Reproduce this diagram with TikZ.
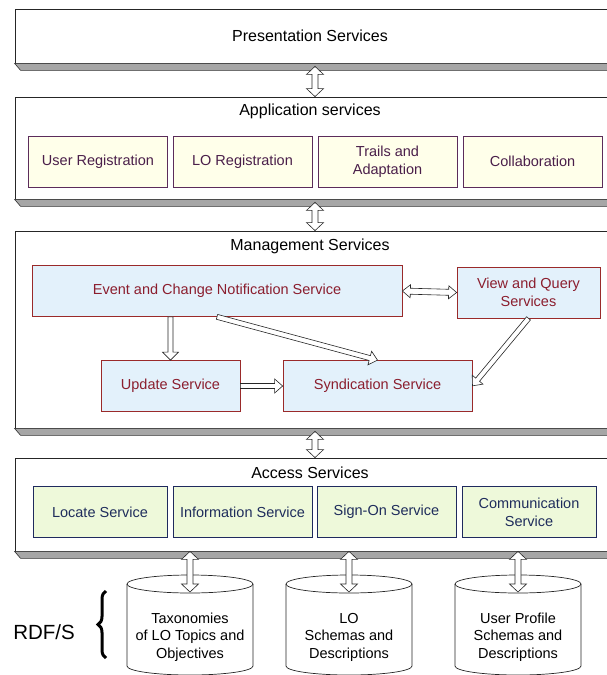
\documentclass[tikz,border=0pt]{standalone}
\usepackage{fontspec}
\setmainfont{Liberation Sans}
\usetikzlibrary{calc,decorations.pathreplacing}

\definecolor{appfill}{HTML}{FFFFEA}
\definecolor{appline}{HTML}{5B2C5B}
\definecolor{apptext}{HTML}{4A1F4A}
\definecolor{mgtfill}{HTML}{E3F1FB}
\definecolor{mgtline}{HTML}{9A2A2A}
\definecolor{mgttext}{HTML}{8B1E2E}
\definecolor{accfill}{HTML}{EEF9DA}
\definecolor{accline}{HTML}{1F2A5E}
\definecolor{acctext}{HTML}{1F2D5C}

\tikzset{
  layer/.style={draw=black!85, fill=white, line width=0.8pt, minimum width=600pt, inner sep=0pt},
  slab/.style={draw=black!80, fill=black!35, line width=0.6pt},
  title/.style={font=\fontsize{16}{19}\selectfont},
  inbox/.style={line width=0.7pt, minimum height=51pt, align=center, inner sep=0pt, font=\fontsize{14.5}{18}\selectfont},
  appbox/.style={inbox, draw=appline, fill=appfill, text=apptext, minimum width=139pt},
  mgtbox/.style={inbox, draw=mgtline, fill=mgtfill, text=mgttext},
  accbox/.style={inbox, draw=accline, fill=accfill, text=acctext},
  dbtext/.style={align=center, font=\fontsize{14.5}{17.5}\selectfont},
  dbline/.style={draw=black!85, line width=0.7pt},
  hollow/.style={draw=black!85, fill=white, line width=0.6pt, line join=miter}
}

% hollow block arrows between two points
\newcommand{\arrowsetup}[2]{%
  \path (#1) coordinate (arA) (#2) coordinate (arB);
  \pgfpointdiff{\pgfpointanchor{arA}{center}}{\pgfpointanchor{arB}{center}}%
  \pgfgetlastxy{\arDX}{\arDY}%
  \pgfmathsetmacro{\arAng}{atan2(\arDY,\arDX)}%
  \pgfmathsetmacro{\arLen}{veclen(\arDX,\arDY)}%
}
\newcommand{\onearrow}[3][8]{%
  \arrowsetup{#2}{#3}%
  \draw[hollow, shift={(arA)}, rotate=\arAng]
    (0pt,-2.5pt) -- (\arLen pt-8pt,-2.5pt) -- (\arLen pt-8pt,-#1pt) -- (\arLen pt,0pt)
    -- (\arLen pt-8pt,#1pt) -- (\arLen pt-8pt,2.5pt) -- (0pt,2.5pt) -- cycle;
}
\newcommand{\twoarrow}[3][8]{%
  \arrowsetup{#2}{#3}%
  \draw[hollow, shift={(arA)}, rotate=\arAng]
    (0pt,0pt) -- (8pt,#1pt) -- (8pt,3pt) -- (\arLen pt-8pt,3pt) -- (\arLen pt-8pt,#1pt)
    -- (\arLen pt,0pt) -- (\arLen pt-8pt,-#1pt) -- (\arLen pt-8pt,-3pt) -- (8pt,-3pt)
    -- (8pt,-#1pt) -- cycle;
}

\begin{document}
\begin{tikzpicture}[x=1pt,y=-1pt]
  \useasboundingbox (0,0) rectangle (607,675);
  \clip (0,0) rectangle (607,675);

  % the four layers
  \node[layer, minimum height=54pt] (pres) at (315,36) {};
  \node[layer, minimum height=102pt] (appl) at (315,148) {};
  \node[layer, minimum height=197pt] (mgmt) at (315,329.5) {};
  \node[layer, minimum height=93pt] (acc) at (315,504.5) {};
  \foreach \l in {pres,appl,mgmt,acc}
    \draw[slab] (\l.south west) -- ++(6,7) -- ++(600,0) -- (\l.south east) -- cycle;

  \node[title] (presT) at (310,36) {Presentation Services};
  \node[title] (applT) at (310,111) {Application services};
  \node[title] (mgmtT) at (310,246) {Management Services};
  \node[title] (accT) at (310,473) {Access Services};

  % application services
  \node[appbox] (user) at (98,161.5) {User Registration};
  \node[appbox] (lor) at (242.5,161.5) {LO Registration};
  \node[appbox] (trail) at (387.5,161.5) {Trails and\\Adaptation};
  \node[appbox] (collab) at (532.5,161.5) {Collaboration};

  % management services
  \node[mgtbox, minimum width=370pt] (event) at (217,291) {Event and Change Notification Service};
  \node[mgtbox, minimum width=143pt] (view) at (528.5,292.5) {View and Query\\Services};
  \node[mgtbox, minimum width=139pt] (update) at (170.5,386) {Update Service};
  \node[mgtbox, minimum width=189pt] (synd) at (377.5,386) {Syndication Service};

  % access services
  \node[accbox, minimum width=134pt] (locate) at (100,512) {Locate Service};
  \node[accbox, minimum width=139pt] (info) at (242.5,512) {Information Service};
  \node[accbox, minimum width=139pt] (signon) at (386.5,512) {Sign-On Service};
  \node[accbox, minimum width=134pt] (comm) at (529,512) {Communication\\Service};

  % repositories
  \node[dbtext] (tax) at (190,637) {Taxonomies\\of LO Topics and\\Objectives};
  \node[dbtext] (lodb) at (349,637) {LO\\Schemas and\\Descriptions};
  \node[dbtext] (userdb) at (518,637) {User Profile\\Schemas and\\Descriptions};
  \foreach \c in {tax,lodb,userdb} {
    \draw[dbline] ([shift={(-63,-53)}]\c.center) -- ([shift={(-63,29)}]\c.center)
      arc[start angle=180, end angle=360, x radius=63pt, y radius=9pt]
      -- ([shift={(63,-53)}]\c.center);
    \draw[dbline] ([shift={(0,-53)}]\c.center) ellipse [x radius=63pt, y radius=9pt];
  }

  \node[font=\fontsize{20.5}{24}\selectfont] (rdfs) at (44,632) {RDF/S};
  \draw[decorate, decoration={brace, amplitude=8pt}, line width=3pt]
    (106,658) -- (106,591);

  % arrows between layers
  \twoarrow[8.5]{$(pres.south)+(0,3)$}{appl.north}
  \twoarrow[8.5]{$(appl.south)+(0,3)$}{mgmt.north}
  \twoarrow[8.5]{$(mgmt.south)+(0,3)$}{acc.north}
  \foreach \c in {tax,lodb,userdb}
    \twoarrow[8.5]{acc.south -| \c}{$(\c)+(0,-45)$};

  % arrows inside management services
  \twoarrow[6.5]{event.east}{view.west}
  \onearrow{event.south -| update}{update.north}
  \onearrow[7]{event.south}{synd.north}
  \onearrow[7]{view.south}{synd.east}
  \onearrow[7]{update.east}{synd.west}
\end{tikzpicture}
\end{document}
